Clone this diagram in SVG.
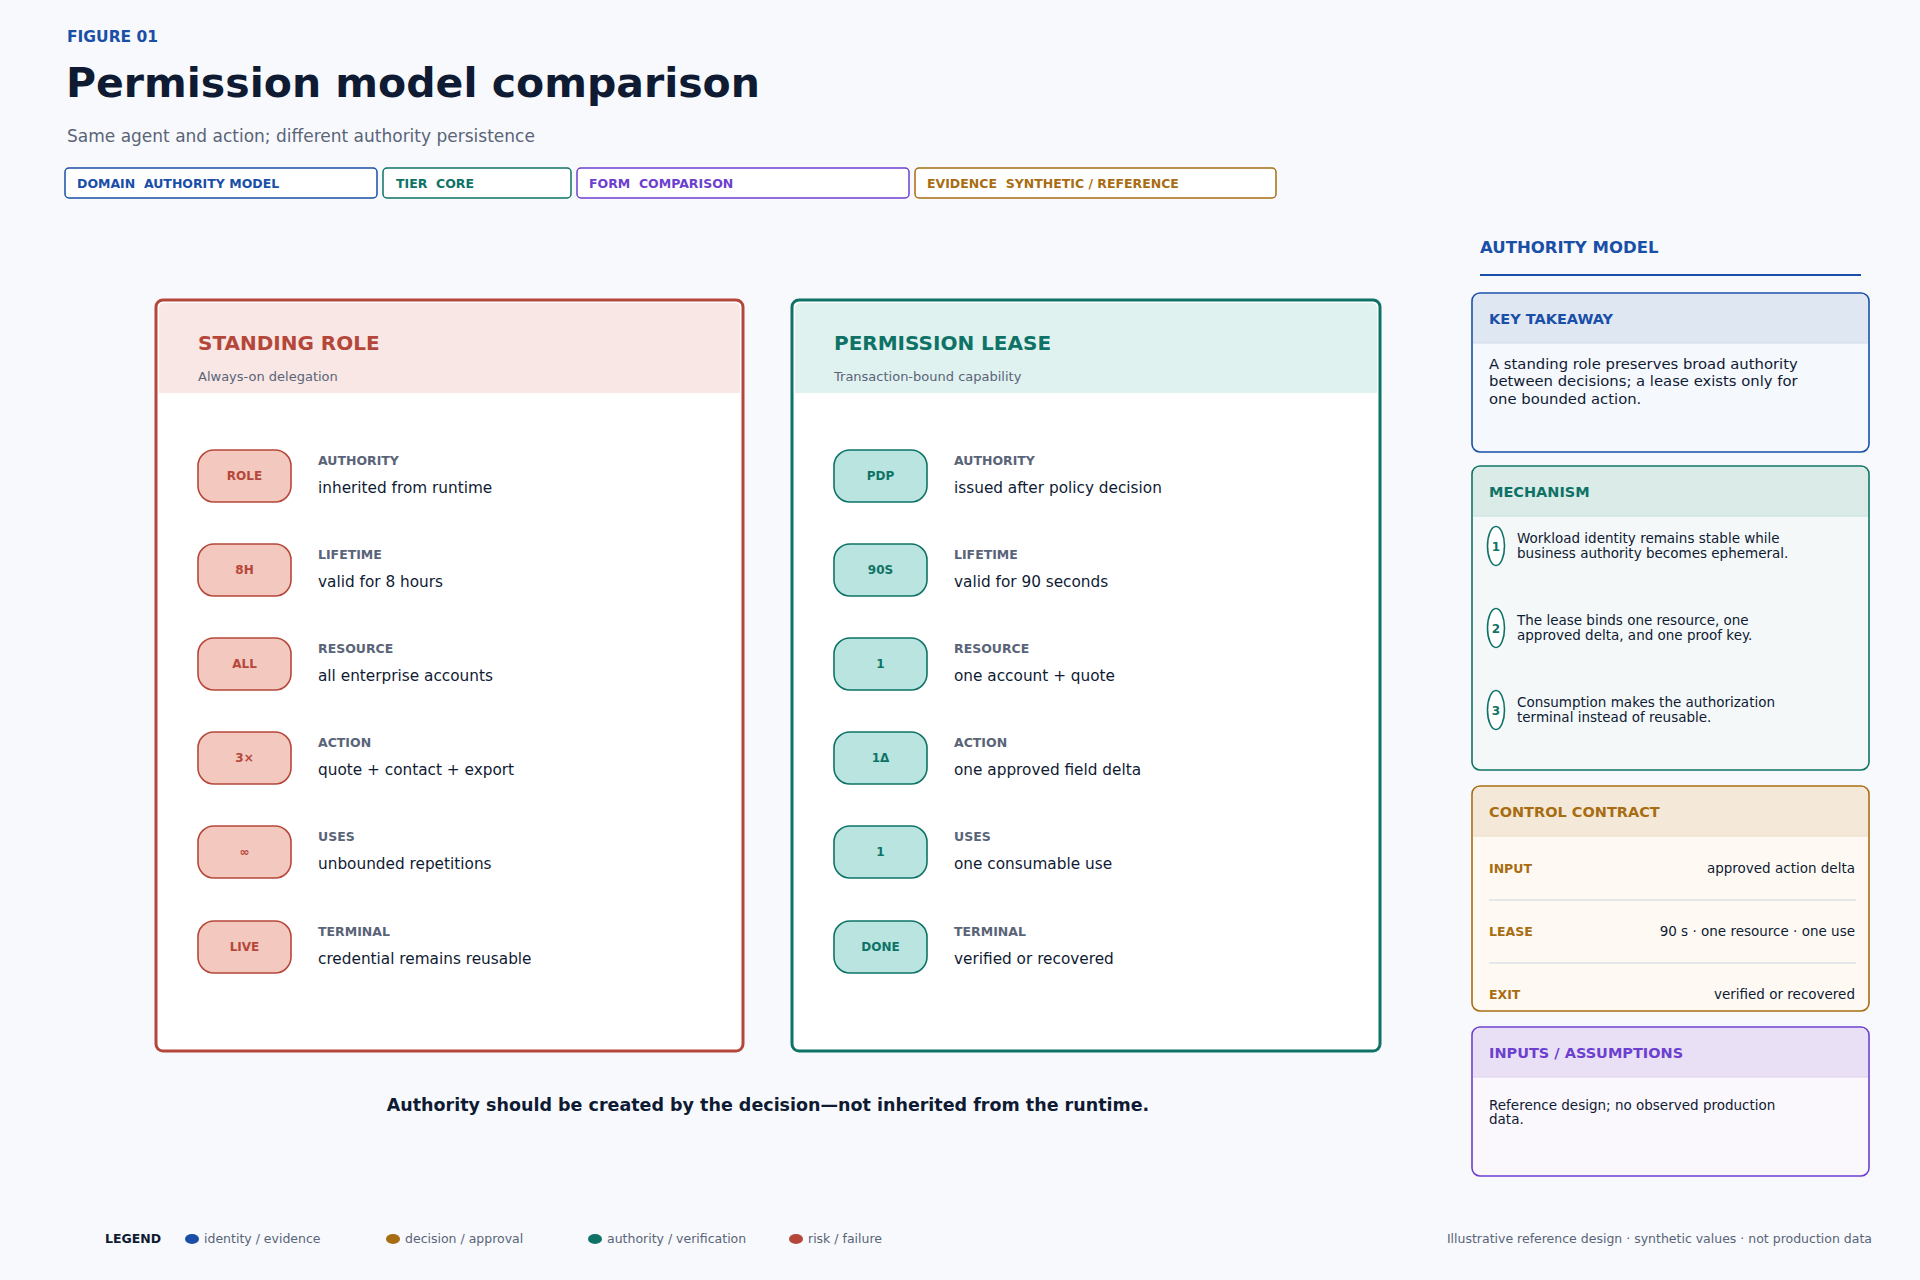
<svg xmlns="http://www.w3.org/2000/svg" width="1920" height="1280" viewBox="0 0 1920 1280">
<style>
text{font-family:"DejaVu Sans","Noto Sans",sans-serif}
.b{font-weight:bold}
.tag{font-size:12.5px;font-weight:bold;white-space:pre}
.ct{font-size:20px;font-weight:bold}
.cs{font-size:13px;fill:#5a6478}
.lab{font-size:12.5px;font-weight:bold;fill:#5a6478}
.val{font-size:15.3px;fill:#0f1a33}
.pr{fill:#f2c8bf;stroke:#b5473a;stroke-width:1.6}
.pt{fill:#bae4df;stroke:#0e7366;stroke-width:1.6}
.pl{font-size:12px;font-weight:bold;text-anchor:middle}
.ph{font-size:14.5px;font-weight:bold}
.body{font-size:14.8px;fill:#0f1a33}
.sm{font-size:13.5px;fill:#0f1a33}
.leg{font-size:12.5px;fill:#5a6478}
</style>
<rect width="1920" height="1280" fill="#f7f9fc"/>
<g id="header">
<text x="67" y="42" class="b" font-size="15.5" fill="#1a4fa8">FIGURE 01</text>
<text x="66" y="97" class="b" font-size="41" fill="#0f1a33">Permission model comparison</text>
<text x="67" y="142" font-size="17" fill="#5a6478">Same agent and action; different authority persistence</text>
<rect x="65" y="168" width="312" height="30" rx="4" fill="#fff" stroke="#1a4fa8" stroke-width="1.5"/>
<text x="77" y="188" class="tag" fill="#1a4fa8" xml:space="preserve">DOMAIN  AUTHORITY MODEL</text>
<rect x="383" y="168" width="188" height="30" rx="4" fill="#fff" stroke="#0e7366" stroke-width="1.5"/>
<text x="396" y="188" class="tag" fill="#0e7366" xml:space="preserve">TIER  CORE</text>
<rect x="577" y="168" width="332" height="30" rx="4" fill="#fff" stroke="#6d3fcf" stroke-width="1.5"/>
<text x="589" y="188" class="tag" fill="#6d3fcf" xml:space="preserve">FORM  COMPARISON</text>
<rect x="915" y="168" width="361" height="30" rx="4" fill="#fff" stroke="#a86d12" stroke-width="1.5"/>
<text x="927" y="188" class="tag" fill="#a86d12" xml:space="preserve">EVIDENCE  SYNTHETIC / REFERENCE</text>
</g>
<g id="standing-role">
<rect x="156" y="300" width="587" height="751" rx="7" fill="#fff" stroke="#b5473a" stroke-width="3"/>
<path d="M159 393 V308 a5 5 0 0 1 5 -5 H735 a5 5 0 0 1 5 5 V393 Z" fill="#f8e7e4"/>
<text x="198" y="350" class="ct" fill="#b5473a">STANDING ROLE</text>
<text x="198" y="381" class="cs">Always-on delegation</text>
<rect class="pr" x="198" y="450" width="93" height="52" rx="16"/><text class="pl" x="244.5" y="480" fill="#b5473a">ROLE</text>
<text class="lab" x="318" y="465">AUTHORITY</text><text class="val" x="318" y="493">inherited from runtime</text>
<rect class="pr" x="198" y="544" width="93" height="52" rx="16"/><text class="pl" x="244.5" y="574" fill="#b5473a">8H</text>
<text class="lab" x="318" y="559">LIFETIME</text><text class="val" x="318" y="587">valid for 8 hours</text>
<rect class="pr" x="198" y="638" width="93" height="52" rx="16"/><text class="pl" x="244.5" y="668" fill="#b5473a">ALL</text>
<text class="lab" x="318" y="653">RESOURCE</text><text class="val" x="318" y="681">all enterprise accounts</text>
<rect class="pr" x="198" y="732" width="93" height="52" rx="16"/><text class="pl" x="244.5" y="762" fill="#b5473a">3×</text>
<text class="lab" x="318" y="747">ACTION</text><text class="val" x="318" y="775">quote + contact + export</text>
<rect class="pr" x="198" y="826" width="93" height="52" rx="16"/><text class="pl" x="244.5" y="856" fill="#b5473a">∞</text>
<text class="lab" x="318" y="841">USES</text><text class="val" x="318" y="869">unbounded repetitions</text>
<rect class="pr" x="198" y="921" width="93" height="52" rx="16"/><text class="pl" x="244.5" y="951" fill="#b5473a">LIVE</text>
<text class="lab" x="318" y="936">TERMINAL</text><text class="val" x="318" y="964">credential remains reusable</text>
</g>
<g id="permission-lease">
<rect x="792" y="300" width="588" height="751" rx="7" fill="#fff" stroke="#0e7366" stroke-width="3"/>
<path d="M795 393 V308 a5 5 0 0 1 5 -5 H1372 a5 5 0 0 1 5 5 V393 Z" fill="#e0f2ef"/>
<text x="834" y="350" class="ct" fill="#0e7366">PERMISSION LEASE</text>
<text x="834" y="381" class="cs">Transaction-bound capability</text>
<rect class="pt" x="834" y="450" width="93" height="52" rx="16"/><text class="pl" x="880.5" y="480" fill="#0e7366">PDP</text>
<text class="lab" x="954" y="465">AUTHORITY</text><text class="val" x="954" y="493">issued after policy decision</text>
<rect class="pt" x="834" y="544" width="93" height="52" rx="16"/><text class="pl" x="880.5" y="574" fill="#0e7366">90S</text>
<text class="lab" x="954" y="559">LIFETIME</text><text class="val" x="954" y="587">valid for 90 seconds</text>
<rect class="pt" x="834" y="638" width="93" height="52" rx="16"/><text class="pl" x="880.5" y="668" fill="#0e7366">1</text>
<text class="lab" x="954" y="653">RESOURCE</text><text class="val" x="954" y="681">one account + quote</text>
<rect class="pt" x="834" y="732" width="93" height="52" rx="16"/><text class="pl" x="880.5" y="762" fill="#0e7366">1Δ</text>
<text class="lab" x="954" y="747">ACTION</text><text class="val" x="954" y="775">one approved field delta</text>
<rect class="pt" x="834" y="826" width="93" height="52" rx="16"/><text class="pl" x="880.5" y="856" fill="#0e7366">1</text>
<text class="lab" x="954" y="841">USES</text><text class="val" x="954" y="869">one consumable use</text>
<rect class="pt" x="834" y="921" width="93" height="52" rx="16"/><text class="pl" x="880.5" y="951" fill="#0e7366">DONE</text>
<text class="lab" x="954" y="936">TERMINAL</text><text class="val" x="954" y="964">verified or recovered</text>
</g>
<g id="conclusion">
<text x="768" y="1111" text-anchor="middle" class="b" font-size="17.5" fill="#0f1a33">Authority should be created by the decision—not inherited from the runtime.</text>
</g>
<g id="side-panel">
<text x="1480" y="253" class="b" font-size="16.5" fill="#1a4fa8">AUTHORITY MODEL</text>
<line x1="1480" y1="275" x2="1861" y2="275" stroke="#1a4fa8" stroke-width="2"/>
</g>
<g id="key-takeaway">
<rect x="1472" y="293" width="397" height="159" rx="8" fill="#f5f8fd" stroke="#1a4fa8" stroke-width="1.6"/>
<path d="M1473 343 V301 a7 7 0 0 1 7 -7 H1861 a7 7 0 0 1 7 7 V343 Z" fill="#dfe7f3"/>
<line x1="1473" y1="343" x2="1868" y2="343" stroke="#cfdaeb"/>
<text x="1489" y="324" class="ph" fill="#1a4fa8">KEY TAKEAWAY</text>
<text class="body"><tspan x="1489" y="369">A standing role preserves broad authority</tspan><tspan x="1489" y="386">between decisions; a lease exists only for</tspan><tspan x="1489" y="404">one bounded action.</tspan></text>
</g>
<g id="mechanism">
<rect x="1472" y="466" width="397" height="304" rx="8" fill="#f4f8f8" stroke="#0e7366" stroke-width="1.6"/>
<path d="M1473 516 V474 a7 7 0 0 1 7 -7 H1861 a7 7 0 0 1 7 7 V516 Z" fill="#dbebe8"/>
<line x1="1473" y1="516" x2="1868" y2="516" stroke="#c6e0dc"/>
<text x="1489" y="497" class="ph" fill="#0e7366">MECHANISM</text>
<ellipse cx="1496" cy="546" rx="8.5" ry="19.5" fill="#fff" stroke="#0e7366" stroke-width="1.6"/><text x="1496" y="551" class="pl" font-size="12" fill="#0e7366">1</text>
<text class="sm"><tspan x="1517" y="543">Workload identity remains stable while</tspan><tspan x="1517" y="558">business authority becomes ephemeral.</tspan></text>
<ellipse cx="1496" cy="628" rx="8.5" ry="19.5" fill="#fff" stroke="#0e7366" stroke-width="1.6"/><text x="1496" y="633" class="pl" font-size="12" fill="#0e7366">2</text>
<text class="sm"><tspan x="1517" y="625">The lease binds one resource, one</tspan><tspan x="1517" y="640">approved delta, and one proof key.</tspan></text>
<ellipse cx="1496" cy="710" rx="8.5" ry="19.5" fill="#fff" stroke="#0e7366" stroke-width="1.6"/><text x="1496" y="715" class="pl" font-size="12" fill="#0e7366">3</text>
<text class="sm"><tspan x="1517" y="707">Consumption makes the authorization</tspan><tspan x="1517" y="722">terminal instead of reusable.</tspan></text>
</g>
<g id="control-contract">
<rect x="1472" y="786" width="397" height="225" rx="8" fill="#fefaf3" stroke="#a86d12" stroke-width="1.6"/>
<path d="M1473 836 V794 a7 7 0 0 1 7 -7 H1861 a7 7 0 0 1 7 7 V836 Z" fill="#f4e9d8"/>
<line x1="1473" y1="836" x2="1868" y2="836" stroke="#ecdcc3"/>
<text x="1489" y="817" class="ph" fill="#a86d12">CONTROL CONTRACT</text>
<text x="1489" y="873" class="b" font-size="12.5" fill="#a86d12">INPUT</text>
<text x="1855" y="873" text-anchor="end" class="sm">approved action delta</text>
<line x1="1489" y1="900" x2="1856" y2="900" stroke="#cdd3de"/>
<text x="1489" y="936" class="b" font-size="12.5" fill="#a86d12">LEASE</text>
<text x="1855" y="936" text-anchor="end" class="sm">90 s · one resource · one use</text>
<line x1="1489" y1="963" x2="1856" y2="963" stroke="#cdd3de"/>
<text x="1489" y="999" class="b" font-size="12.5" fill="#a86d12">EXIT</text>
<text x="1855" y="999" text-anchor="end" class="sm">verified or recovered</text>
</g>
<g id="inputs-assumptions">
<rect x="1472" y="1027" width="397" height="149" rx="8" fill="#faf7fd" stroke="#6d3fcf" stroke-width="1.6"/>
<path d="M1473 1077 V1035 a7 7 0 0 1 7 -7 H1861 a7 7 0 0 1 7 7 V1077 Z" fill="#e9e0f6"/>
<line x1="1473" y1="1077" x2="1868" y2="1077" stroke="#ddd0ee"/>
<text x="1489" y="1058" class="ph" fill="#6d3fcf">INPUTS / ASSUMPTIONS</text>
<text class="sm"><tspan x="1489" y="1110">Reference design; no observed production</tspan><tspan x="1489" y="1124">data.</tspan></text>
</g>
<g id="legend">
<text x="105" y="1243" class="b" font-size="12.5" fill="#0f1a33">LEGEND</text>
<ellipse cx="192" cy="1239" rx="7" ry="5" fill="#1a4fa8"/><text x="204" y="1243" class="leg">identity / evidence</text>
<ellipse cx="393" cy="1239" rx="7" ry="5" fill="#a86d12"/><text x="405" y="1243" class="leg">decision / approval</text>
<ellipse cx="595" cy="1239" rx="7" ry="5" fill="#0e7366"/><text x="607" y="1243" class="leg">authority / verification</text>
<ellipse cx="796" cy="1239" rx="7" ry="5" fill="#b5473a"/><text x="808" y="1243" class="leg">risk / failure</text>
<text x="1872" y="1243" text-anchor="end" class="leg" font-size="12.2">Illustrative reference design · synthetic values · not production data</text>
</g>
</svg>
